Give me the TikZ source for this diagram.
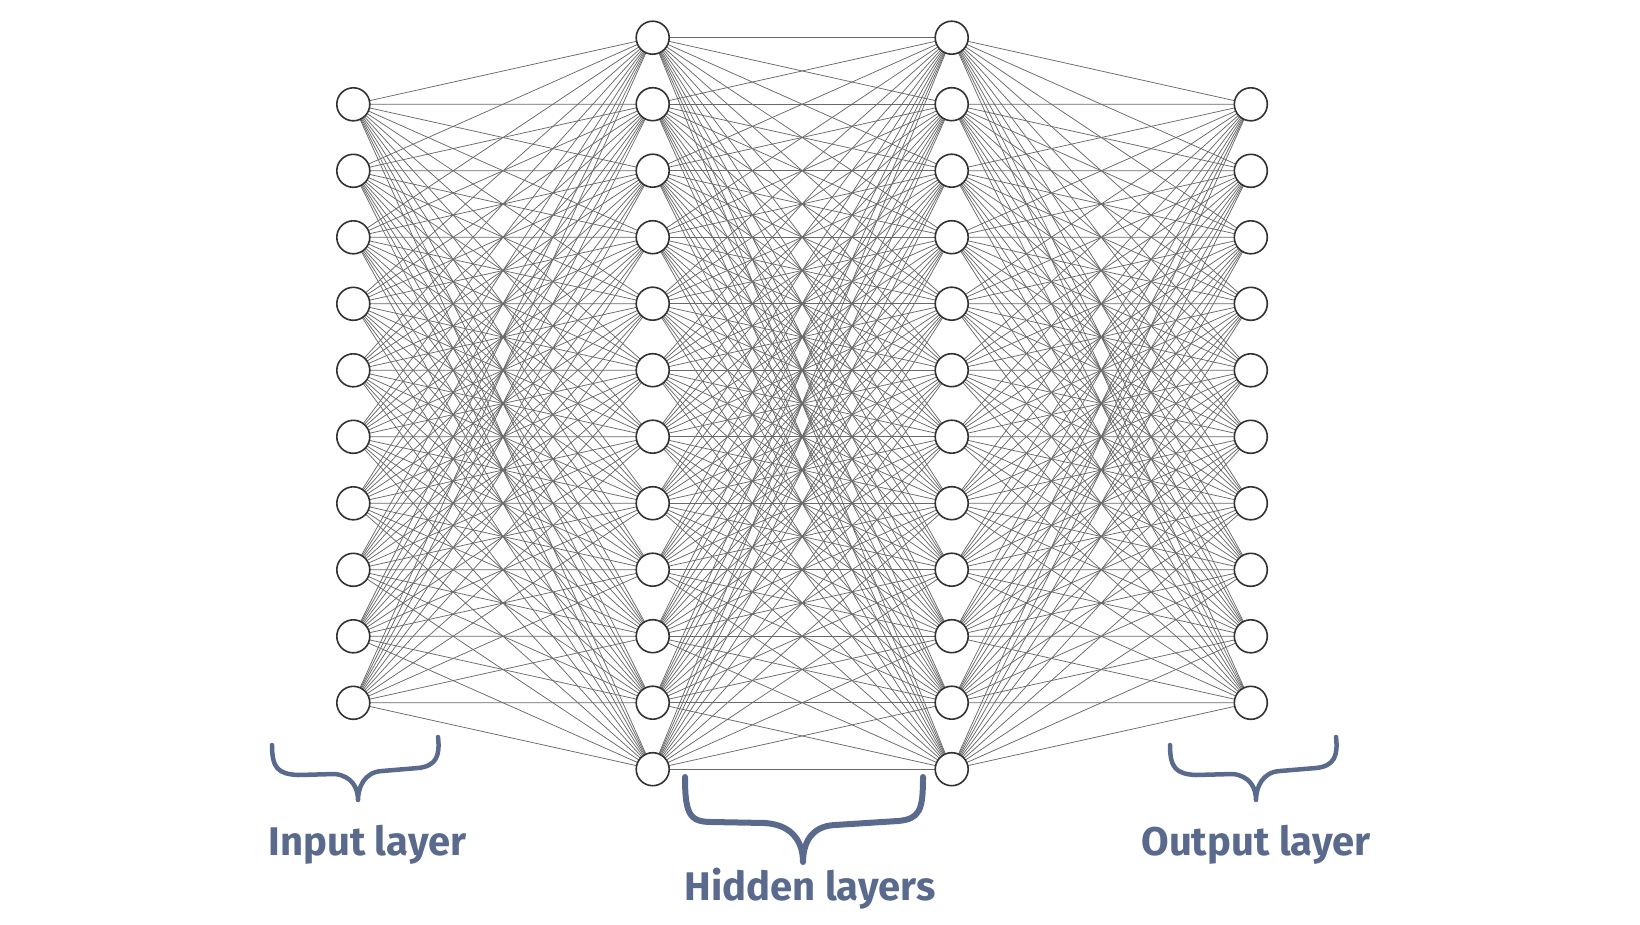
\documentclass[tikz,border=0pt]{standalone}
\usepackage{fontspec}
\setmainfont{Fira Sans}
\pgfdeclarelayer{background}
\pgfsetlayers{background,main}
\definecolor{linkgray}{RGB}{105,105,105}
\definecolor{nodeline}{RGB}{50,50,50}
\definecolor{bracecol}{RGB}{90,106,140}
\begin{document}
\begin{tikzpicture}[x=1pt,y=-1pt,
  neuron/.style={circle,draw=nodeline,fill=white,line width=1.6pt,minimum size=33pt,inner sep=0pt},
  link/.style={draw=linkgray,line width=0.75pt},
  brace/.style={draw=bracecol,line width=4.5pt,line cap=round,line join=round},
  bigbrace/.style={brace,line width=6pt},
  caption/.style={text=bracecol,font=\fontsize{40}{42}\selectfont\bfseries,inner sep=0pt,anchor=base}]
\useasboundingbox (0,0) rectangle (1640,924);

% neurons
\foreach \k in {1,...,10} {
  \node[neuron] (i\k) at (353.3,{104.3+(\k-1)*66.5}) {};
  \node[neuron] (o\k) at (1250.8,{104.3+(\k-1)*66.5}) {};
}
\foreach \k in {1,...,12} {
  \node[neuron] (h\k) at (652.7,{37.7+(\k-1)*66.5}) {};
  \node[neuron] (g\k) at (951.7,{37.7+(\k-1)*66.5}) {};
}

% fully connected weights
\begin{pgfonlayer}{background}
\foreach \a in {1,...,10} \foreach \b in {1,...,12} {
  \draw[link] (i\a.center) -- (h\b.center);
  \draw[link] (g\b.center) -- (o\a.center);
}
\foreach \a in {1,...,12} \foreach \b in {1,...,12} {
  \draw[link] (h\a.center) -- (g\b.center);
}
\end{pgfonlayer}

% braces under the layers
\foreach \dx in {0,898} {
  \begin{scope}[xshift=\dx]
  \draw[brace] (272,745) .. controls (272,768) and (278,774) .. (298,775)
     -- (335,774) .. controls (352,776) and (358,788) .. (358,800)
     .. controls (358,788) and (364,772) .. (382,771)
     -- (418,768) .. controls (437,766) and (440,755) .. (438,737);
  \end{scope}
}
\draw[bigbrace] (685,777) .. controls (685,815) and (690,822) .. (712,822)
   -- (765,823) .. controls (795,825) and (803,845) .. (803,862)
   .. controls (803,845) and (810,826) .. (835,825)
   -- (898,821) .. controls (920,819) and (923,810) .. (923,777);

% captions
\node[caption] (inlab) at (367.5,855) {Input layer};
\node[caption] (hidlab) at (810,900) {Hidden layers};
\node[caption] (outlab) at (1256,855) {Output layer};
\end{tikzpicture}
\end{document}
